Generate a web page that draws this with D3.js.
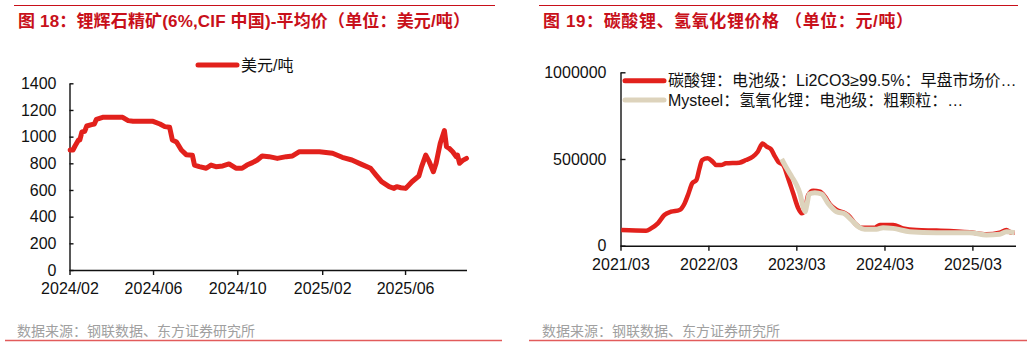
<!DOCTYPE html>
<html>
<head>
<meta charset="utf-8">
<script src="https://cdn.jsdelivr.net/npm/d3@7"></script>
<style>
  html, body { margin: 0; padding: 0; background: #fff; }
  svg { display: block; }
</style>
</head>
<body>
<svg id="chart" width="1032" height="346"></svg>
<script>
// ---- Figure 18: spodumene concentrate (6%, CIF China) average price, USD/t ----
const spodDates = ["2024-02-02","2024-02-06","2024-02-09","2024-02-14","2024-02-16","2024-02-19","2024-02-23","2024-02-26","2024-03-04","2024-03-08","2024-03-11","2024-03-20","2024-04-18","2024-04-26","2024-05-03","2024-06-01","2024-06-11","2024-06-18","2024-06-25","2024-06-29","2024-07-05","2024-07-12","2024-07-19","2024-07-28","2024-07-31","2024-08-07","2024-08-17","2024-08-24","2024-08-31","2024-09-10","2024-09-19","2024-09-29","2024-10-08","2024-10-15","2024-10-23","2024-10-30","2024-11-06","2024-11-16","2024-11-28","2024-12-11","2024-12-20","2024-12-30","2025-01-28","2025-02-16","2025-03-02","2025-03-16","2025-03-30","2025-04-12","2025-04-20","2025-04-28","2025-05-09","2025-05-16","2025-05-20","2025-05-26","2025-06-02","2025-06-11","2025-06-21","2025-06-25","2025-07-01","2025-07-06","2025-07-12","2025-07-16","2025-07-22","2025-07-28","2025-07-31","2025-08-04","2025-08-09","2025-08-14","2025-08-16","2025-08-19","2025-08-23","2025-08-29"];
const spodPrice = [900,900,930,975,975,1035,1040,1080,1090,1095,1130,1145,1145,1120,1115,1115,1095,1075,1070,975,960,900,865,860,787,775,763,787,775,780,795,763,763,787,805,825,855,850,837,850,855,887,887,875,845,825,792,763,712,662,625,612,625,617,612,662,705,775,862,812,737,800,950,1045,925,912,887,850,862,800,820,837];
const spodTicks = ["2024-02-01","2024-06-01","2024-10-01","2025-02-01","2025-06-01"];
const spodYTicks = [0,200,400,600,800,1000,1200,1400];
const spodSeriesName = "美元/吨";

// ---- Figure 19: lithium carbonate & lithium hydroxide prices, CNY/t ----
const carbDates = ["2021-03-04","2021-06-15","2021-07-06","2021-08-03","2021-08-30","2021-09-27","2021-11-01","2021-11-22","2021-12-06","2021-12-24","2022-01-10","2022-01-23","2022-02-03","2022-02-26","2022-03-19","2022-04-02","2022-04-22","2022-05-13","2022-07-07","2022-08-04","2022-09-01","2022-09-22","2022-10-12","2022-10-29","2022-11-16","2022-11-29","2022-12-16","2023-01-06","2023-01-26","2023-02-16","2023-03-09","2023-03-23","2023-04-06","2023-04-19","2023-05-10","2023-06-07","2023-06-28","2023-07-18","2023-08-15","2023-09-19","2023-10-09","2023-10-30","2023-11-27","2024-01-21","2024-02-11","2024-04-06","2024-05-17","2024-07-12","2024-10-03","2025-02-18","2025-04-28","2025-06-22","2025-07-20","2025-08-10","2025-08-23"];
const carbPrice = [90000,86500,100000,129000,177000,196000,206000,244000,292000,360000,379000,446000,494000,504000,484000,465000,465000,475000,479000,494000,513000,542000,590000,571000,556000,523000,484000,465000,389000,302000,216000,187000,206000,292000,317000,311000,283000,240000,206000,187000,167000,129000,104000,104000,119000,119000,100000,90000,87000,77000,66000,75000,90000,75000,75000];
const hydDates = ["2022-12-30","2023-01-20","2023-02-10","2023-03-02","2023-03-16","2023-03-29","2023-04-06","2023-04-15","2023-04-23","2023-05-17","2023-06-14","2023-07-11","2023-08-15","2023-09-19","2023-10-16","2023-11-13","2023-12-10","2024-01-28","2024-02-24","2024-04-06","2024-06-14","2024-10-03","2025-02-18","2025-04-28","2025-06-22","2025-07-20","2025-08-23"];
const hydPrice = [500000,446000,398000,350000,302000,225000,196000,244000,298000,306000,298000,244000,196000,183000,148000,110000,95000,95000,104000,100000,81000,75000,75000,62000,66000,81000,75000];
const lithTicks = ["2021-03-01","2022-03-01","2023-03-01","2024-03-01","2025-03-01"];
const lithYTicks = [0,500000,1000000];
const carbName = "碳酸锂：电池级：Li2CO3≥99.5%：早盘市场价…";
const hydName = "Mysteel：氢氧化锂：电池级：粗颗粒：…";

const parse = d3.timeParse("%Y-%m-%d");
const RED = "#e2211c";
const BEIGE = "#ddd3bc";
const TITLE_RED = "#c8101a";
// Latin glyphs in Liberation Sans, Chinese glyphs fall through to Noto Sans CJK
const MIX = "'Liberation Sans', 'Noto Sans CJK SC', sans-serif";
const CJK = "'Noto Sans CJK SC', 'Liberation Sans', sans-serif";
const LAT = "'Liberation Sans', Arial, sans-serif";

const svg = d3.select("#chart");
svg.append("rect").attr("width", 1032).attr("height", 346).attr("fill", "#fff");

function frame(x0, x1, bx0, bx1, title, tx, tw, fx) {
  svg.append("line").attr("x1", x0).attr("x2", x1).attr("y1", 5.5).attr("y2", 5.5)
    .attr("stroke", TITLE_RED).attr("stroke-width", 1.2);
  svg.append("text").attr("x", tx).attr("y", 21).attr("dy", "0.35em")
    .attr("font-family", MIX).attr("font-weight", "bold").attr("font-size", 17)
    .attr("textLength", tw).attr("lengthAdjust", "spacing")
    .attr("fill", TITLE_RED).text(title);
  svg.append("text").attr("x", fx).attr("y", 331).attr("dy", "0.35em")
    .attr("font-family", CJK).attr("font-size", 14).attr("fill", "#a0a0a0")
    .text("数据来源：钢联数据、东方证券研究所");
  svg.append("line").attr("x1", bx0).attr("x2", bx1).attr("y1", 340.5).attr("y2", 340.5)
    .attr("stroke", "#e25b5b").attr("stroke-width", 1.6);
}

function styleAxis(g) {
  g.select(".domain").attr("stroke", "#111").attr("stroke-width", 1.4);
  g.selectAll(".tick line").attr("stroke", "#111").attr("stroke-width", 1.4);
  g.selectAll(".tick text").attr("fill", "#111").attr("font-size", 16).attr("font-family", LAT);
}

// ---------- left panel ----------
frame(14, 495, 5, 502, "图 18：锂辉石精矿(6%,CIF 中国)-平均价（单位：美元/吨）", 18, 452, 17);

const xL = d3.scaleTime().domain([parse("2024-02-01"), parse("2025-08-29")]).range([69.5, 466.5]);
const yL = d3.scaleLinear().domain([0, 1400]).range([270, 83.3]);

svg.append("g").attr("transform", "translate(0,270)")
  .call(d3.axisBottom(xL).tickValues(spodTicks.map(parse)).tickFormat(d3.timeFormat("%Y/%m"))
    .tickSizeInner(5).tickSizeOuter(0).tickPadding(8))
  .call(styleAxis);
svg.append("g").attr("transform", "translate(69.5,0)")
  .call(d3.axisLeft(yL).tickValues(spodYTicks).tickFormat(d3.format("d"))
    .tickSizeInner(-4).tickSizeOuter(0).tickPadding(13))
  .call(styleAxis);

const spodData = spodDates.map((d, i) => ({ date: parse(d), v: spodPrice[i] }));
svg.append("path").datum(spodData)
  .attr("fill", "none").attr("stroke", RED).attr("stroke-width", 5)
  .attr("stroke-linejoin", "round").attr("stroke-linecap", "round")
  .attr("d", d3.line().x(d => xL(d.date)).y(d => yL(d.v)));

const legL = svg.append("g").attr("transform", "translate(198,65)");
legL.append("line").attr("x1", 0).attr("x2", 39).attr("stroke", RED)
  .attr("stroke-width", 5).attr("stroke-linecap", "round");
legL.append("text").attr("x", 43).attr("dy", "0.35em").attr("font-family", MIX)
  .attr("font-size", 16).attr("fill", "#111").text(spodSeriesName);

// ---------- right panel ----------
frame(539, 1018, 529, 1027, "图 19：碳酸锂、氢氧化锂价格 （单位：元/吨）", 543, 370, 542);

const xR = d3.scaleTime().domain([parse("2021-03-01"), parse("2025-08-27")]).range([620.5, 1015.5]);
const yR = d3.scaleLinear().domain([0, 1000000]).range([245.7, 72.3]);

svg.append("g").attr("transform", "translate(0,245.7)")
  .call(d3.axisBottom(xR).tickValues(lithTicks.map(parse)).tickFormat(d3.timeFormat("%Y/%m"))
    .tickSizeInner(5).tickSizeOuter(0).tickPadding(8))
  .call(styleAxis);
svg.append("g").attr("transform", "translate(620.5,0)")
  .call(d3.axisLeft(yR).tickValues(lithYTicks).tickFormat(d3.format("d"))
    .tickSizeInner(-5).tickSizeOuter(0).tickPadding(14))
  .call(styleAxis);

const lineR = d3.line().curve(d3.curveMonotoneX).x(d => xR(d.date)).y(d => yR(d.v));
const carbData = carbDates.map((d, i) => ({ date: parse(d), v: carbPrice[i] }));
const hydData = hydDates.map((d, i) => ({ date: parse(d), v: hydPrice[i] }));

svg.append("path").datum(carbData)
  .attr("fill", "none").attr("stroke", RED).attr("stroke-width", 4.5)
  .attr("stroke-linejoin", "round").attr("d", lineR);
svg.append("path").datum(hydData)
  .attr("fill", "none").attr("stroke", BEIGE).attr("stroke-width", 5)
  .attr("stroke-linejoin", "round").attr("d", lineR);

const legR = svg.append("g").attr("transform", "translate(625,0)");
[[carbName, RED, 80.7], [hydName, BEIGE, 100]].forEach(([name, col, y]) => {
  legR.append("line").attr("x1", 0).attr("x2", 39).attr("y1", y).attr("y2", y)
    .attr("stroke", col).attr("stroke-width", 5).attr("stroke-linecap", "round");
  legR.append("text").attr("x", 43).attr("y", y).attr("dy", "0.35em").attr("font-family", MIX)
    .attr("font-size", 16).attr("fill", "#111").text(name);
});
</script>
</body>
</html>
